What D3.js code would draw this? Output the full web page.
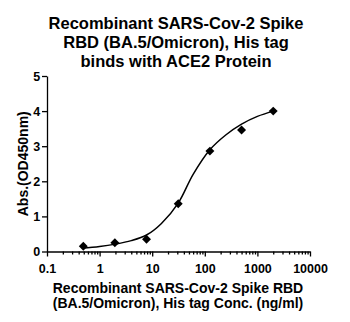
<!DOCTYPE html>
<html>
<head>
<meta charset="utf-8">
<script src="https://cdn.jsdelivr.net/npm/d3@7"></script>
<style>
  html, body { margin: 0; padding: 0; background: #fff; }
  svg { display: block; font-family: "Liberation Sans", Arial, sans-serif; }
</style>
</head>
<body>
<svg id="chart" width="350" height="322"></svg>
<script>
// Measured binding: concentration (ng/ml) and absorbance at 450 nm
const concentrations = [0.49, 1.95, 7.8, 31.25, 125, 500, 2000];
const absorbance = [0.15, 0.25, 0.35, 1.36, 2.86, 3.46, 4.0];

// Fitted dose-response curve, sampled along the concentration range
const fitConc = [0.46, 1, 2, 4, 7.8, 15, 31.25, 60, 125, 250, 500, 1000, 2000];
const fitAbs = [0.09, 0.14, 0.21, 0.31, 0.47, 0.8, 1.38, 2.2, 2.9, 3.32, 3.63, 3.85, 4.0];

const xTickValues = [0.1, 1, 10, 100, 1000, 10000];
const xTickLabels = ["0.1", "1", "10", "100", "1000", "10000"];
const yTickValues = [0, 1, 2, 3, 4, 5];

const titleLines = ["Recombinant SARS-Cov-2 Spike", "RBD (BA.5/Omicron), His tag", "binds with ACE2 Protein"];
const xTitleLines = ["Recombinant SARS-Cov-2 Spike RBD", "(BA.5/Omicron), His tag Conc. (ng/ml)"];
const yTitle = "Abs.(OD450nm)";

const svg = d3.select("#chart");
const plot = { left: 47, right: 310, top: 76, bottom: 251.5 };

const x = d3.scaleLog().domain([0.1, 10000]).range([plot.left, plot.right]);
const y = d3.scaleLinear().domain([0, 5]).range([plot.bottom, plot.top]);

// Title
svg.append("g").selectAll("text").data(titleLines).join("text")
  .attr("x", 176).attr("y", (d, i) => 29 + i * 19)
  .attr("text-anchor", "middle")
  .attr("font-size", 16.5).attr("font-weight", "bold")
  .text(d => d);

// Minor ticks for the log axis (2..9 in each decade)
const minor = [];
for (let e = -1; e < 4; e++) for (let m = 2; m <= 9; m++) minor.push(m * Math.pow(10, e));

const xAxisG = svg.append("g").attr("transform", `translate(0,${plot.bottom})`);
xAxisG.call(d3.axisBottom(x).tickValues(minor).tickSize(3).tickFormat(""))
  .call(g => g.select(".domain").remove());
xAxisG.append("g").call(d3.axisBottom(x).tickValues(xTickValues).tickSize(5).tickSizeOuter(0)
    .tickFormat((d, i) => xTickLabels[i]))
  .call(g => g.selectAll("text").attr("font-size", 12.5).attr("font-weight", "bold")
      .attr("fill", "#000").attr("font-family", "Liberation Sans, Arial, sans-serif").attr("dy", "1.05em"));
xAxisG.selectAll("path, line").attr("stroke", "#000").attr("stroke-width", 1.3);

const yAxisG = svg.append("g").attr("transform", `translate(${plot.left},0)`)
  .call(d3.axisLeft(y).tickValues(yTickValues).tickSize(5).tickSizeOuter(0).tickFormat(d3.format("d")))
  .call(g => g.selectAll("text").attr("font-size", 12.5).attr("font-weight", "bold")
      .attr("fill", "#000").attr("font-family", "Liberation Sans, Arial, sans-serif").attr("dx", "0.1em"));
yAxisG.selectAll("path, line").attr("stroke", "#000").attr("stroke-width", 1.3);

// Axis titles
svg.append("g").selectAll("text").data(xTitleLines).join("text")
  .attr("x", 178).attr("y", (d, i) => 293 + i * 15)
  .attr("text-anchor", "middle")
  .attr("font-size", 14).attr("font-weight", "bold")
  .text(d => d);

svg.append("text")
  .attr("transform", `translate(28,${(plot.top + plot.bottom) / 2}) rotate(-90)`)
  .attr("text-anchor", "middle")
  .attr("font-size", 14).attr("font-weight", "bold")
  .text(yTitle);

// Fitted curve
const line = d3.line()
  .x((d, i) => x(fitConc[i]))
  .y((d, i) => y(fitAbs[i]))
  .curve(d3.curveCatmullRom.alpha(0.5));
svg.append("path")
  .datum(fitConc)
  .attr("d", line)
  .attr("fill", "none")
  .attr("stroke", "#000")
  .attr("stroke-width", 1.5);

// Data markers (diamonds)
const diamond = d3.symbol().type(d3.symbolSquare).size(40);
svg.append("g").selectAll("path").data(concentrations).join("path")
  .attr("transform", (d, i) => `translate(${x(d)},${y(absorbance[i])}) rotate(45)`)
  .attr("d", diamond)
  .attr("fill", "#000");
</script>
</body>
</html>
